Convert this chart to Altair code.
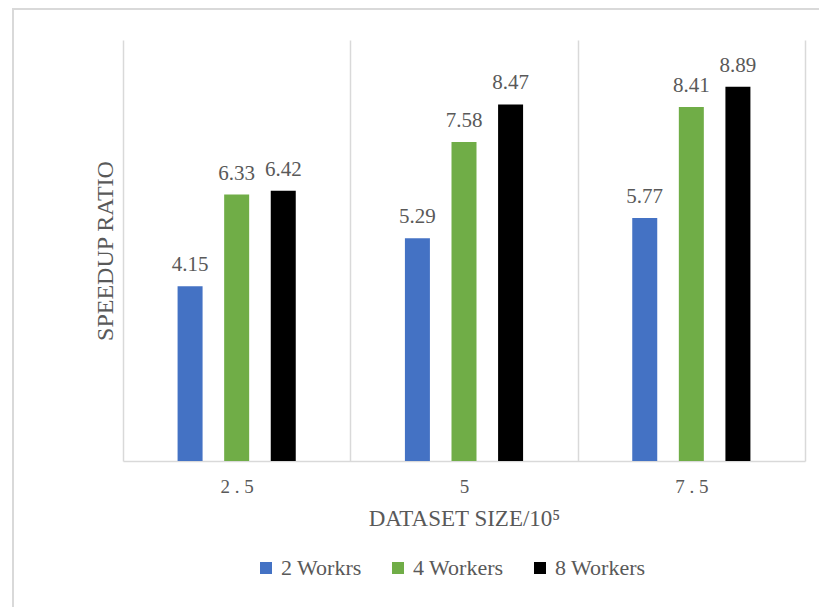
import altair as alt
import pandas as pd

sizes = ["2.5", "5", "7.5"]
series = ["2 Workrs", "4 Workers", "8 Workers"]
workers2 = [4.15, 5.29, 5.77]
workers4 = [6.33, 7.58, 8.41]
workers8 = [6.42, 8.47, 8.89]
colors = ["#4472C4", "#70AD47", "#000000"]

rows = []
for s, vals in zip(series, [workers2, workers4, workers8]):
    for size, v in zip(sizes, vals):
        rows.append({"size": size, "series": s, "value": v})
df = pd.DataFrame(rows)

font = "Times New Roman, Liberation Serif, DejaVu Serif, serif"
gray = "#595959"
light = "#d9d9d9"

base = alt.Chart(df).encode(
    x=alt.X(
        "size:N",
        sort=sizes,
        scale=alt.Scale(paddingInner=0, paddingOuter=0),
        axis=alt.Axis(
            title="DATASET SIZE/10⁵",
            titleFont=font,
            titleFontSize=23,
            titleFontWeight="normal",
            titleColor=gray,
            titlePadding=11,
            labelFont=font,
            labelFontSize=19,
            labelColor=gray,
            labelPadding=16,
            labelAngle=0,
            labelExpr="replace(datum.label, '.', ' . ')",
            ticks=False,
            domainColor=light,
            domainWidth=1.5,
            grid=True,
            gridColor=light,
            gridWidth=1.5,
            tickBand="extent",
        ),
    ),
    xOffset=alt.XOffset(
        "series:N", sort=series, scale=alt.Scale(paddingInner=0.12, paddingOuter=1)
    ),
    y=alt.Y(
        "value:Q",
        scale=alt.Scale(domain=[0, 10]),
        axis=alt.Axis(
            title="SPEEDUP RATIO",
            titleFont=font,
            titleFontSize=24,
            titleFontWeight="normal",
            titleColor=gray,
            titlePadding=6,
            labels=False,
            ticks=False,
            domain=False,
            grid=False,
        ),
    ),
)

bars = base.mark_bar(width=25).encode(
    color=alt.Color(
        "series:N",
        scale=alt.Scale(domain=series, range=colors),
        legend=alt.Legend(
            title=None,
            orient="none",
            legendX=132,
            legendY=517,
            direction="horizontal",
            symbolType="square",
            symbolSize=144,
            symbolStrokeWidth=0,
            labelFont=font,
            labelFontSize=22,
            labelColor=gray,
            labelOffset=4,
            columnPadding=25,
        ),
    )
)

labels = base.mark_text(
    dy=-15, baseline="alphabetic", font=font, fontSize=21, color=gray
).encode(text=alt.Text("value:Q", format=".2f"))

frame_left = alt.Chart(pd.DataFrame({"f": [0]})).mark_rule(
    stroke=light, strokeWidth=2
).encode(x=alt.value(-110), y=alt.value(-31), y2=alt.value(1000))

frame_top = alt.Chart(pd.DataFrame({"f": [0]})).mark_rule(
    stroke=light, strokeWidth=2
).encode(y=alt.value(-31), x=alt.value(-111), x2=alt.value(1000))

chart = (
    alt.layer(frame_left, frame_top, bars, labels)
    .properties(
        width=682,
        height=421,
        autosize=alt.AutoSizeParams(type="none"),
        padding={"left": 123, "top": 40, "right": 14, "bottom": 146},
        background="white",
    )
    .configure_view(stroke=None)
)

chart.save("out.html", embed_options={"renderer": "svg", "actions": False})
